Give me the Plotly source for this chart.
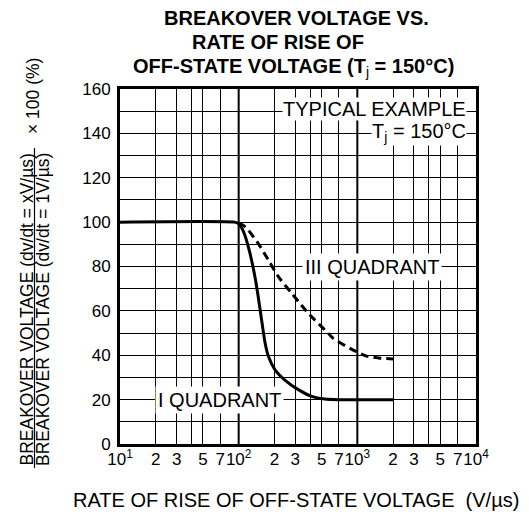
import plotly.graph_objects as go

# Breakover voltage ratio (%) vs. rate of rise of off-state voltage (V/us)
q1_rate = [10, 92, 100, 106, 113, 124.5, 137, 146, 156, 167, 178, 202, 245, 318, 412, 533, 700, 1000, 2000]
q1_ratio = [100, 100, 99.3, 97.5, 94, 86, 75.5, 66.5, 56, 45.5, 39.5, 33.5, 28.8, 24.5, 21.5, 20.3, 20, 20, 20]

q3_rate = [100, 110, 120.5, 146, 178, 216, 280, 328, 386, 425, 569, 627, 866, 1197, 1500, 2000]
q3_ratio = [99.5, 98.5, 96.4, 90.4, 82.9, 75.4, 67.9, 63.4, 58.9, 56.6, 49.9, 47.6, 43.1, 39.6, 38.8, 38.3]

x_tickvals = [10, 20, 30, 50, 70, 100, 200, 300, 500, 700, 1000, 2000, 3000, 5000, 7000, 10000]
x_ticktext = ["10<sup>1</sup>", "2", "3", "5", "7", "10<sup>2</sup>", "2", "3", "5", "7",
              "10<sup>3</sup>", "2", "3", "5", "7", "10<sup>4</sup>"]
x_minor_grid = [40, 400, 4000]
decade_lines = [100, 1000]
y_tickvals = [0, 20, 40, 60, 80, 100, 120, 140, 160]

FONT = "Liberation Sans, Arial, sans-serif"
W, H = 529, 520
L, R, T, B = 120, 476, 89, 444  # plot area in pixels


def px(p):
    return (p - L) / (R - L)


def py(p):
    return (B - p) / (B - T)


fig = go.Figure()

# heavier decade grid lines
for d in decade_lines:
    fig.add_trace(go.Scatter(x=[d, d], y=[0, 160], mode="lines",
                             line=dict(color="black", width=2),
                             hoverinfo="skip", showlegend=False))

fig.add_trace(go.Scatter(x=q1_rate, y=q1_ratio, mode="lines",
                         line=dict(color="black", width=3, shape="spline", smoothing=0.6),
                         showlegend=False, name="I QUADRANT"))
fig.add_trace(go.Scatter(x=q3_rate, y=q3_ratio, mode="lines",
                         line=dict(color="black", width=3, dash="8px,5px", shape="spline", smoothing=0.6),
                         showlegend=False, name="III QUADRANT"))

fig.update_xaxes(type="log", range=[1, 4], tickvals=x_tickvals, ticktext=x_ticktext,
                 tickangle=0,
                 showgrid=True, gridcolor="black", gridwidth=1,
                 minor=dict(tickvals=x_minor_grid, showgrid=True, gridcolor="black", gridwidth=1, ticks=""),
                 showline=True, linecolor="black", linewidth=3, mirror=True,
                 ticks="", ticklabelstandoff=-2, zeroline=False,
                 tickfont=dict(family=FONT, size=17, color="black"))
fig.update_yaxes(range=[0, 160], tickvals=y_tickvals,
                 showgrid=True, gridcolor="black", gridwidth=1,
                 minor=dict(dtick=10, showgrid=True, gridcolor="black", gridwidth=1, ticks=""),
                 showline=True, linecolor="black", linewidth=3, mirror=True,
                 ticks="", ticklabelstandoff=3, zeroline=False,
                 tickfont=dict(family=FONT, size=17, color="black"))

ann = []
# title lines
title_font = dict(family=FONT, size=20, color="black")
for text, cx, cy in [("<b>BREAKOVER VOLTAGE VS.</b>", 296.7, 17.5),
                     ("<b>RATE OF RISE OF</b>", 278, 42.5),
                     ("<b>OFF-STATE VOLTAGE (T</b><sub>j</sub><b> = 150°C)</b>", 293.5, 67.5)]:
    ann.append(dict(text=text, xref="paper", yref="paper", x=px(cx), y=py(cy),
                    xanchor="center", yanchor="middle", showarrow=False, font=title_font))

lab_font = dict(family=FONT, size=20, color="black")
ann.append(dict(text="TYPICAL EXAMPLE", xref="paper", yref="y", x=px(467), y=151,
                xanchor="right", yanchor="middle", showarrow=False, font=lab_font,
                bgcolor="white", borderpad=0))
ann.append(dict(text="T<sub>j</sub> = 150°C", xref="paper", yref="y", x=px(467), y=140.5,
                xanchor="right", yanchor="middle", showarrow=False, font=lab_font,
                bgcolor="white", borderpad=0))
ann.append(dict(text="III QUADRANT", xref="paper", yref="y", x=px(371.5), y=80,
                xanchor="center", yanchor="middle", showarrow=False, font=lab_font,
                bgcolor="white", borderpad=2))
ann.append(dict(text="I QUADRANT", xref="paper", yref="y", x=px(219), y=20,
                xanchor="center", yanchor="middle", showarrow=False, font=lab_font,
                bgcolor="white", borderpad=2))

# x-axis title
ann.append(dict(text="RATE OF RISE OF OFF-STATE VOLTAGE\u00a0\u00a0(V/µs)", xref="paper", yref="paper",
                x=px(295.5), y=py(500), xanchor="center", yanchor="middle", showarrow=False,
                font=dict(family=FONT, size=20, color="black")))

# y-axis title as a fraction
yt_font = dict(family=FONT, size=17.5, color="black")
num = "BREAKOVER VOLTAGE (dv/dt = xV/µs)"
den = "BREAKOVER VOLTAGE (dv/dt = 1V/µs)"
ann.append(dict(text=num, xref="paper", yref="paper", x=px(26.5), y=py(310), textangle=-90,
                xanchor="center", yanchor="middle", showarrow=False, font=yt_font))
ann.append(dict(text=den, xref="paper", yref="paper", x=px(43), y=py(310), textangle=-90,
                xanchor="center", yanchor="middle", showarrow=False, font=yt_font))
ann.append(dict(text="× 100 (%)", xref="paper", yref="paper", x=px(33.5), y=py(96.5), textangle=-90,
                xanchor="center", yanchor="middle", showarrow=False, font=yt_font))

fig.update_layout(
    width=W, height=H,
    margin=dict(l=L, r=W - R, t=T, b=H - B),
    paper_bgcolor="white", plot_bgcolor="white",
    annotations=ann,
    shapes=[dict(type="line", xref="paper", yref="paper",
                 x0=px(34.5), x1=px(34.5), y0=py(148), y1=py(468),
                 line=dict(color="black", width=1.2))],
    showlegend=False,
)

fig.write_html("out.html")
